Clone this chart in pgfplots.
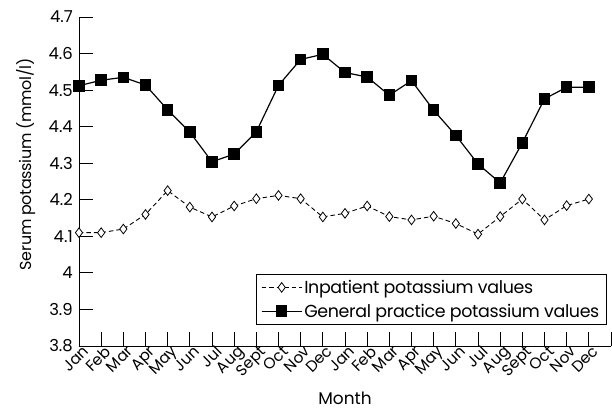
\documentclass[border=0pt]{standalone}
\usepackage{fontspec}
\setmainfont{Poppins}
\newfontfamily\tightfont{Poppins}[LetterSpace=-2.0]
\usepackage{pgfplots}
\pgfplotsset{compat=1.18}
\begin{document}
\begin{tikzpicture}
\useasboundingbox (-79bp,-65bp) rectangle (533bp,346bp);
\begin{axis}[
  at={(0,0)}, anchor=south west,
  scale only axis, width=532bp, height=329bp,
  xmin=0, xmax=24, ymin=3.8, ymax=4.7,
  axis x line*=bottom, axis y line*=left,
  axis line style={line width=0.9pt, -},
  tick style={line width=0.9pt, black},
  major tick length=14bp,
  tick align=inside,
  xtick={0,...,24},
  xticklabels={Jan,Feb,Mar,Apr,May,Jun,Jul,Aug,Sept,Oct,Nov,Dec,Jan,Feb,Mar,Apr,May,Jun,Jul,Aug,Sept,Oct,Nov,Dec,{}},
  xticklabel style={rotate=45, anchor=north east, font=\fontsize{15.5}{15.5}\selectfont, inner sep=0pt, xshift=3bp, yshift=-1bp},
  ytick={3.8,3.9,4.0,4.1,4.2,4.3,4.4,4.5,4.6,4.7},
  yticklabels={3.8,3.9,4,4.1,4.2,4.3,4.4,4.5,4.6,4.7},
  yticklabel style={font=\fontsize{16.5}{16.5}\selectfont, inner sep=0pt, xshift=-6bp},
  ylabel={Serum potassium (mmol/l)},
  ylabel style={at={(axis description cs:-0.1,0.552)}, anchor=center, font=\tightfont\fontsize{16}{16}\selectfont},
  legend style={at={(0.992,0.064)}, anchor=south east, draw=black, line width=0.9pt,
    font=\tightfont\fontsize{17.5}{20}\selectfont, inner xsep=5pt, inner ysep=4pt, row sep=5pt},
  legend cell align=left,
  legend image code/.code={
    \draw[#1] (0bp,0bp) -- (20bp,0bp) -- (40bp,0bp);
    \draw[#1, mark repeat=2, mark phase=2] plot coordinates {(0bp,0bp) (20bp,0bp) (40bp,0bp)};
  },
  after end axis/.code={
    \node[font=\fontsize{17}{17}\selectfont, anchor=center] at (axis description cs:0.5,-0.158) {Month};
  },
]
\addplot[black, line width=0.9pt, dash pattern=on 4.5bp off 3bp, mark=diamond*, mark size=4.8bp,
  mark options={solid, fill=white, line width=0.8pt}] coordinates {
(0,4.11) (1,4.11) (2,4.12) (3,4.16) (4,4.225) (5,4.18) (6,4.153) (7,4.183) (8,4.203) (9,4.212) (10,4.203) (11,4.153)
(12,4.163) (13,4.183) (14,4.154) (15,4.145) (16,4.155) (17,4.135) (18,4.106) (19,4.154) (20,4.202) (21,4.145) (22,4.184) (23,4.202)
};
\addlegendentry{Inpatient potassium values}
\addplot[black, line width=1.2pt, mark=square*, mark size=5.2bp, mark options={solid}] coordinates {
(0,4.512) (1,4.527) (2,4.535) (3,4.514) (4,4.446) (5,4.385) (6,4.304) (7,4.325) (8,4.386) (9,4.513) (10,4.584) (11,4.598)
(12,4.548) (13,4.536) (14,4.486) (15,4.526) (16,4.445) (17,4.376) (18,4.298) (19,4.246) (20,4.356) (21,4.476) (22,4.508) (23,4.508)
};
\addlegendentry{General practice potassium values}
\end{axis}
\end{tikzpicture}
\end{document}
